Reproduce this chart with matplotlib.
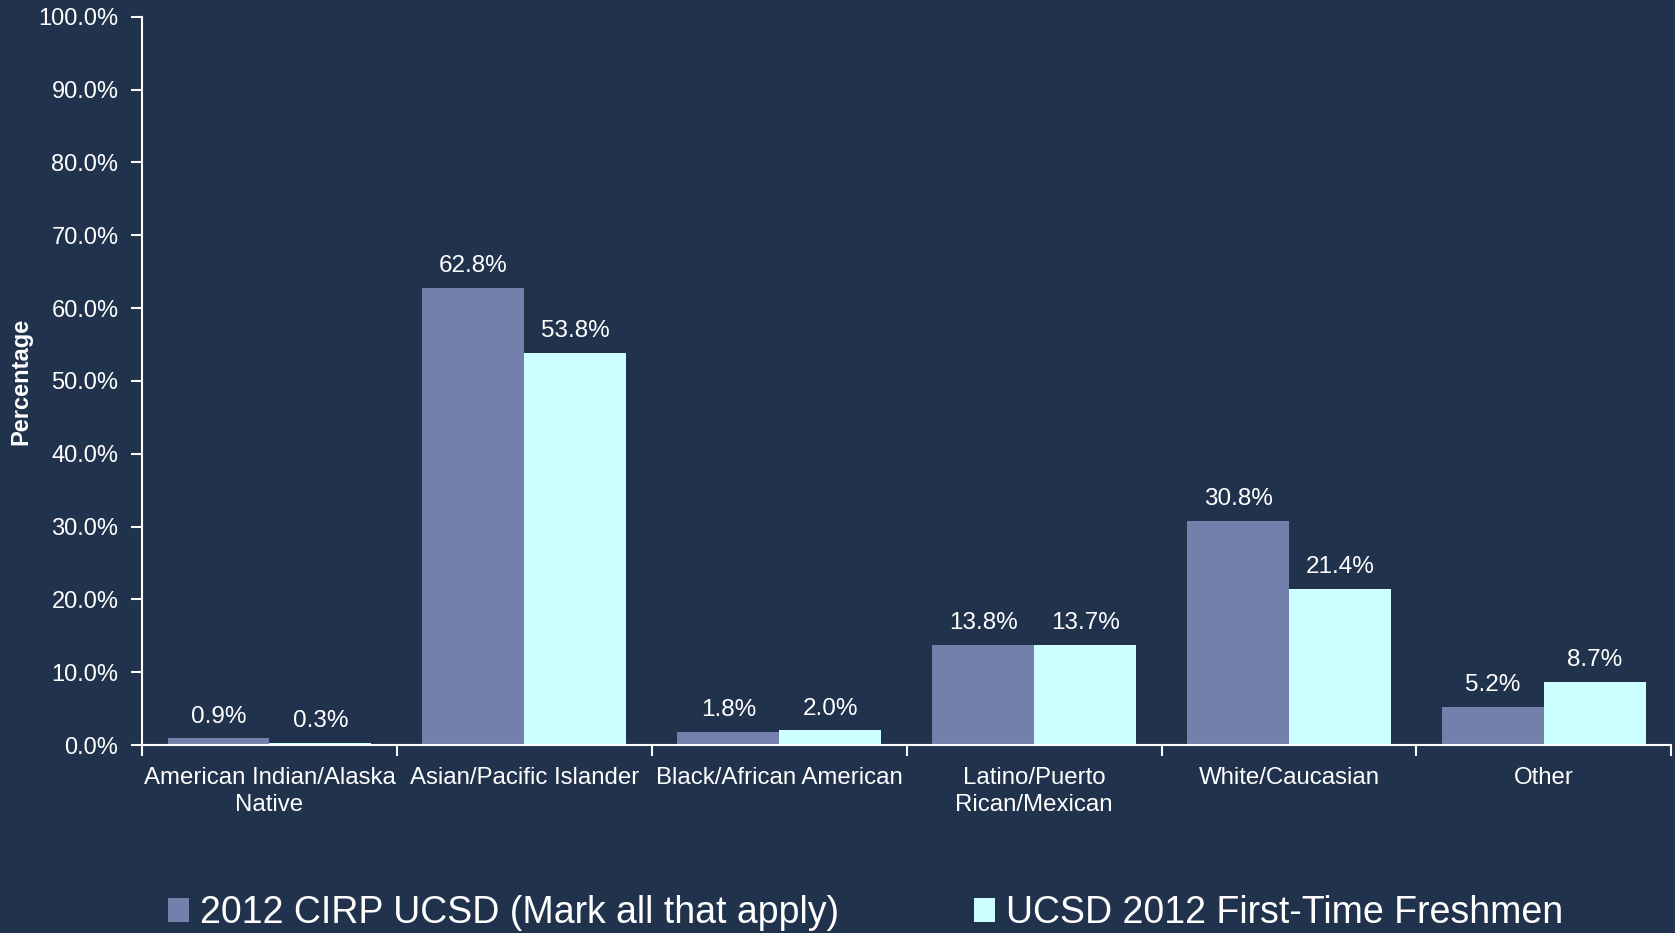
import numpy as np
import matplotlib.pyplot as plt
from matplotlib.ticker import FixedLocator, PercentFormatter

plt.rcParams['font.family'] = ['Liberation Sans', 'DejaVu Sans']

# Data
categories = ["American Indian/Alaska\nNative", "Asian/Pacific Islander",
              "Black/African American", "Latino/Puerto\nRican/Mexican",
              "White/Caucasian", "Other"]
cirp = [0.9, 62.8, 1.8, 13.8, 30.8, 5.2]
freshmen = [0.3, 53.8, 2.0, 13.7, 21.4, 8.7]
series_names = ["2012 CIRP UCSD (Mark all that apply)", "UCSD 2012 First-Time Freshmen"]

bg = "#21324c"
c1 = "#7480ac"
c2 = "#ccffff"
fg = "white"

fig = plt.figure(figsize=(16.75, 9.33), dpi=100, facecolor=bg)
ax = fig.add_axes([0.0848, 0.2015, 0.913, 0.7805], facecolor=bg)

x = np.arange(len(categories))
w = 0.4
b1 = ax.bar(x - w / 2, cirp, w, color=c1, label=series_names[0])
b2 = ax.bar(x + w / 2, freshmen, w, color=c2, label=series_names[1])

for bars, vals in ((b1, cirp), (b2, freshmen)):
    for rect, v in zip(bars, vals):
        ax.text(rect.get_x() + rect.get_width() / 2, v + 1.5, f"{v:.1f}%",
                ha="center", va="bottom", color=fg, fontsize=17.5)

ax.set_xlim(-0.5, len(categories) - 0.5)
ax.set_ylim(0, 100)
ax.set_yticks(np.arange(0, 101, 10))
ax.yaxis.set_major_formatter(PercentFormatter(decimals=1))
ax.set_xticks(x)
ax.set_xticklabels(categories, fontsize=17.3, color=fg, linespacing=1.3)
ax.xaxis.set_minor_locator(FixedLocator(np.arange(-0.5, len(categories), 1)))
ax.tick_params(axis="x", which="major", length=0, pad=16)
ax.tick_params(axis="x", which="minor", length=8, width=1.5, color=fg, direction="out")
ax.tick_params(axis="y", length=8, width=1.5, color=fg, labelcolor=fg, labelsize=17, pad=9)

for s in ("top", "right"):
    ax.spines[s].set_visible(False)
for s in ("left", "bottom"):
    ax.spines[s].set_color(fg)
    ax.spines[s].set_linewidth(1.5)

ax.set_ylabel("Percentage", color=fg, fontsize=17, fontweight="bold")
ax.yaxis.set_label_coords(-0.072, 0.5)

fig.legend(loc="lower center", bbox_to_anchor=(0.517, -0.034), ncol=2, frameon=False,
           fontsize=27, labelcolor=fg, handlelength=0.55, handleheight=0.6,
           handletextpad=0.3, columnspacing=3.6)

fig.savefig("out.png", dpi=100, facecolor=bg)
